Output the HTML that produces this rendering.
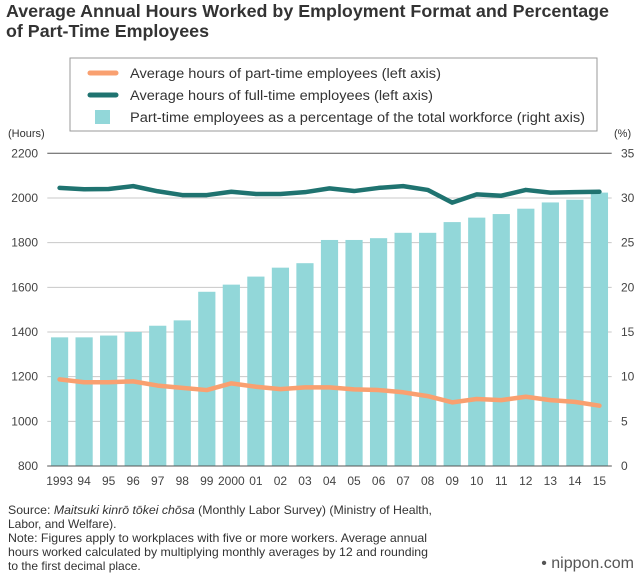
<!DOCTYPE html>
<html><head><meta charset="utf-8"><style>
body{margin:0;background:#fff;font-family:"Liberation Sans",sans-serif;}
svg text{font-family:"Liberation Sans",sans-serif;}
</style></head><body>
<svg id="c" width="640" height="580" xmlns="http://www.w3.org/2000/svg">
<text x="6" y="17" font-size="17.5" font-weight="bold" fill="#333" textLength="603" lengthAdjust="spacingAndGlyphs">Average Annual Hours Worked by Employment Format and Percentage</text>
<text x="6" y="37" font-size="17.5" font-weight="bold" fill="#333" textLength="203" lengthAdjust="spacingAndGlyphs">of Part-Time Employees</text>
<g>
<rect x="70" y="58" width="527" height="73" fill="#fff" stroke="#999" stroke-width="1"/>
<line x1="90" y1="73" x2="116" y2="73" stroke="#f9a070" stroke-width="5" stroke-linecap="round"/>
<text x="130" y="78" font-size="13.5" fill="#333" textLength="311" lengthAdjust="spacingAndGlyphs">Average hours of part-time employees (left axis)</text>
<line x1="90" y1="95" x2="116" y2="95" stroke="#1f7370" stroke-width="5" stroke-linecap="round"/>
<text x="130" y="100" font-size="13.5" fill="#333" textLength="303" lengthAdjust="spacingAndGlyphs">Average hours of full-time employees (left axis)</text>
<rect x="95" y="110" width="15" height="14" fill="#92d7d9"/>
<text x="130" y="122" font-size="13.5" fill="#333" textLength="455" lengthAdjust="spacingAndGlyphs">Part-time employees as a percentage of the total workforce (right axis)</text>
</g>
<text x="8" y="137" font-size="11" fill="#333">(Hours)</text>
<text x="614" y="137" font-size="11" fill="#333">(%)</text>
<g id="plot"></g>
<text x="8" y="514" font-size="12" fill="#333" textLength="424" lengthAdjust="spacingAndGlyphs">Source: <tspan font-style="italic">Maitsuki kinrō tōkei chōsa</tspan> (Monthly Labor Survey) (Ministry of Health,</text>
<text x="8" y="528" font-size="12" fill="#333">Labor, and Welfare).</text>
<text x="8" y="542" font-size="12" fill="#333" textLength="419" lengthAdjust="spacingAndGlyphs">Note: Figures apply to workplaces with five or more workers. Average annual</text>
<text x="8" y="556" font-size="12" fill="#333" textLength="420" lengthAdjust="spacingAndGlyphs">hours worked calculated by multiplying monthly averages by 12 and rounding</text>
<text x="8" y="570" font-size="12" fill="#333">to the first decimal place.</text>
<text x="634" y="568" font-size="16" fill="#555" text-anchor="end">• nippon.com</text>
</svg>
<script>
const years=["1993","94","95","96","97","98","99","2000","01","02","03","04","05","06","07","08","09","10","11","12","13","14","15"];
const pctShare=[14.4,14.4,14.6,15.0,15.7,16.3,19.5,20.3,21.2,22.2,22.7,25.3,25.3,25.5,26.1,26.1,27.3,27.8,28.2,28.8,29.5,29.8,30.6];
const fullHours=[2045,2039,2040,2053,2030,2013,2013,2028,2018,2018,2026,2043,2031,2045,2053,2036,1979,2016,2010,2036,2024,2026,2028];
const partHours=[1188,1175,1175,1179,1160,1150,1140,1170,1155,1144,1152,1152,1143,1140,1130,1113,1085,1100,1095,1110,1095,1087,1070];
const leftTicks=[800,1000,1200,1400,1600,1800,2000,2200];
const rightTicks=[0,5,10,15,20,25,30,35];
const NS="http://www.w3.org/2000/svg";
const g=document.getElementById('plot');
const X0=47.3,X1=611.7,Y0=466,Y1=153.3;
const slot=(X1-X0)/years.length;
const xc=i=>X0+slot*(i+0.5);
const yL=v=>Y0-(v-800)/(2200-800)*(Y0-Y1);
const yR=v=>Y0-v/35*(Y0-Y1);
function mk(t,a){const e=document.createElementNS(NS,t);for(const k in a)e.setAttribute(k,a[k]);g.appendChild(e);return e;}
leftTicks.forEach((v,i)=>{
 const y=yL(v);
 const l=mk('line',{x1:X0,x2:X1,y1:y,y2:y,stroke:(i==0||i==leftTicks.length-1)?'#555':'#c8c8c8','stroke-width':1});
 
 
 const t=mk('text',{x:38,y:y+4,'font-size':12,fill:'#444','text-anchor':'end'});t.textContent=v;
 
 
});
rightTicks.forEach(v=>{
 const t=mk('text',{x:621,y:yR(v)+4,'font-size':12,fill:'#444'});t.textContent=v;
 
 
});
years.forEach((yr,i)=>{
 const top=yR(pctShare[i]);
 const b=mk('rect',{x:xc(i)-8.6,y:top,width:17.2,height:Y0-top,fill:'#92d7d9'});
 
 
 const t=mk('text',{x:xc(i),y:485,'font-size':12,fill:'#444','text-anchor':'middle'});t.textContent=yr;
 
 
});
const ax=mk('line',{x1:X0,x2:X1,y1:Y0,y2:Y0,stroke:'#555','stroke-width':1});


function line(vals,col,name){
 const p=mk('polyline',{points:vals.map((v,i)=>xc(i)+','+yL(v)).join(' '),fill:'none',stroke:col,'stroke-width':4.5,'stroke-linejoin':'round','stroke-linecap':'round'});
 
 
}
line(fullHours,'#1f7370','full-time-hours-line');
line(partHours,'#f9a070','part-time-hours-line');
</script>
</body></html>
